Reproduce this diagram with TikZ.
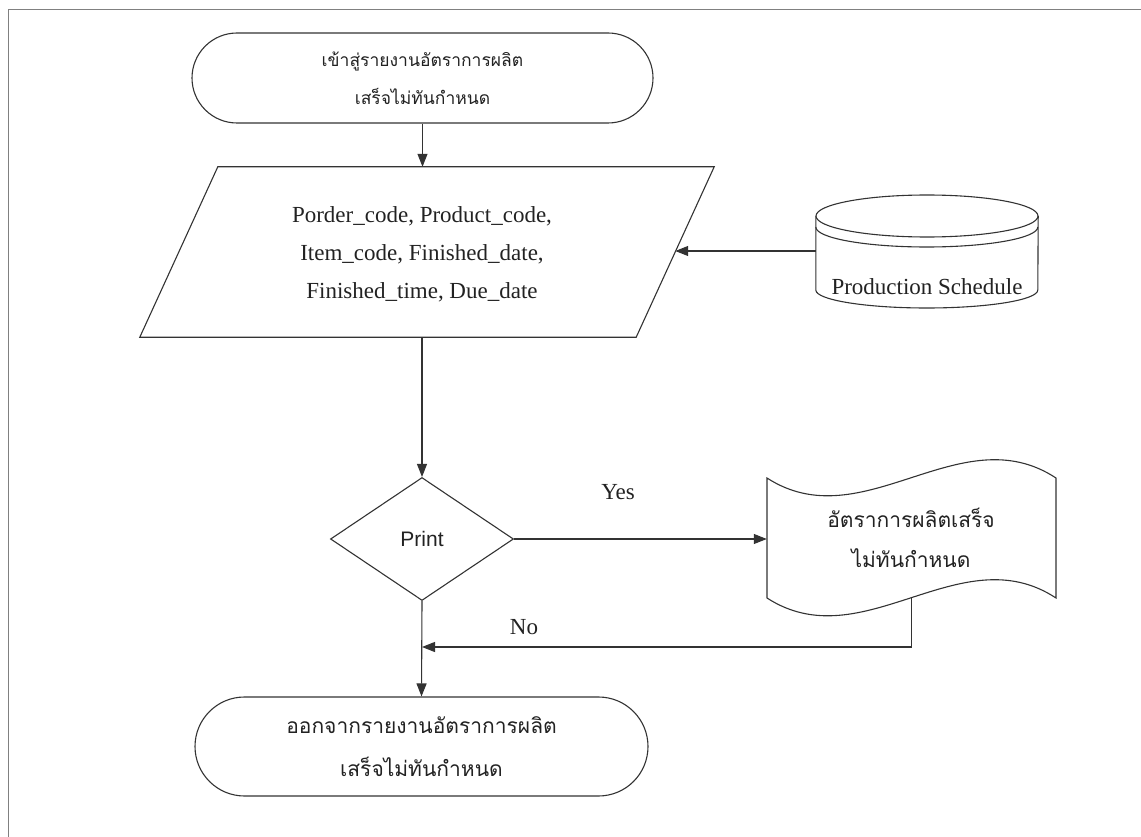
\documentclass[tikz,border=0pt]{standalone}
\usepackage{fontspec}
\setmainfont{Liberation Serif}
\newfontfamily\thaifont[Script=Thai]{Loma}
\newfontfamily\arialfont{Liberation Sans}
\usetikzlibrary{shapes.geometric,shapes.misc,arrows.meta,calc}
\definecolor{linec}{HTML}{333333}
\definecolor{framec}{HTML}{808080}
\definecolor{textc}{HTML}{222222}

\begin{document}
\begin{tikzpicture}[x=1pt,y=-1pt,
  line/.style={draw=linec, line width=1.1pt},
  arrow/.style={line, -{Triangle[length=13pt,width=10pt]}},
  terminal/.style={rounded rectangle, line, fill=white, inner sep=0pt,
    align=center, text=textc},
  plainbox/.style={inner sep=0pt, align=center, text=textc},
  label/.style={text=textc, font=\fontsize{23}{27}\selectfont}
]
\useasboundingbox (0,0) rectangle (1141,837);

% page frame (top and left rules)
\draw[draw=framec, line width=1pt] (8,837) -- (8,10) -- (1141,10);

% start terminal
\node[terminal, minimum width=461pt, minimum height=90pt,
      font=\thaifont\fontsize{17.5}{38}\selectfont] (start) at (422.5,78)
  {เข้าสู่รายงานอัตราการผลิต\\เสร็จไม่ทันกำหนด};

% input/output parallelogram
\node[plainbox, minimum width=496pt, minimum height=170pt] (io) at (427,252) {};
\draw[line] ($(io.north west)+(39,0)$) -- ($(io.north east)+(39,0)$)
  -- ($(io.south east)+(-39,0)$) -- ($(io.south west)+(-39,0)$) -- cycle;
\node[plainbox, font=\fontsize{23}{38}\selectfont] (iotext) at (422,254)
  {Porder\_code, Product\_code,\\Item\_code, Finished\_date,\\Finished\_time, Due\_date};

% database cylinder
\node[plainbox, minimum width=222pt, minimum height=114pt] (db) at (927,251) {};
\draw[line, fill=white] ($(db.west)+(0,-35)$) -- ($(db.west)+(0,39)$)
  arc[start angle=180, end angle=0, x radius=111, y radius=18]
  -- ($(db.east)+(0,-35)$);
\draw[line] ($(db.west)+(0,-24)$)
  arc[start angle=180, end angle=0, x radius=111, y radius=20];
\draw[line, fill=white] ($(db.center)+(0,-35)$) ellipse[x radius=111, y radius=21];
\node[label] (dblabel) at (927,287) {Production Schedule};

% decision
\node[diamond, line, fill=white, aspect=1.5, minimum width=183pt,
      minimum height=123pt, inner sep=0pt, text=textc,
      font=\arialfont\fontsize{21}{24}\selectfont] (dec) at (422,539) {Print};

% printed report (document with wavy edges)
\node[plainbox, minimum width=289pt, minimum height=120pt] (doc) at (911.5,538) {};
\begin{scope}[shift={(doc.center)}]
  \draw[line, fill=white] (-144.5,-60) .. controls (-48.5,2) and (48.5,-123) .. (144.5,-60)
    -- (144.5,60) .. controls (48.5,-3) and (-48.5,122) .. (-144.5,60) -- cycle;
\end{scope}
\node[plainbox, font=\thaifont\fontsize{21}{40}\selectfont] (doctext) at (911,538)
  {อัตราการผลิตเสร็จ\\ไม่ทันกำหนด};
\coordinate (docb) at ($(doc.center)+(0,60)$);

% end terminal
\node[terminal, minimum width=453pt, minimum height=99pt,
      font=\thaifont\fontsize{21}{43}\selectfont] (endt) at (421.5,746.5)
  {ออกจากรายงานอัตราการผลิต\\เสร็จไม่ทันกำหนด};

% connectors
\coordinate (merge) at (422,647);
\draw[arrow] (start.south) -- (start.south |- io.north);
\draw[arrow] (db.west) -- (db.west -| io.east);
\draw[arrow] (io.south -| dec.north) -- (dec.north);
\draw[arrow] (dec.east) -- (dec.east -| doc.west);
\draw[arrow] (docb) |- (merge);
\draw[arrow] (dec.south) -- (endt.north);

% branch labels
\node[label] (yes) at (618,492) {Yes};
\node[label] (no) at (524,627) {No};
\end{tikzpicture}
\end{document}
